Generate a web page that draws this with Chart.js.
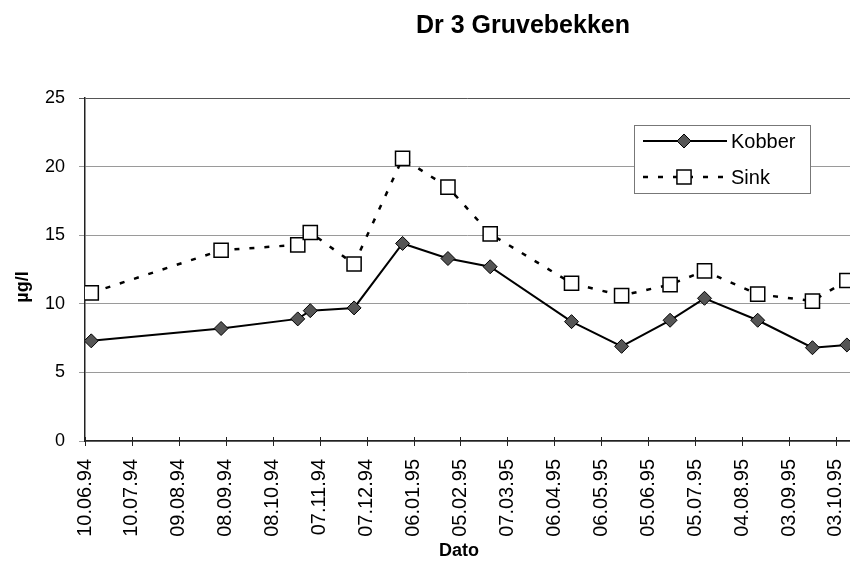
<!DOCTYPE html>
<html>
<head>
<meta charset="utf-8">
<title>Dr 3 Gruvebekken</title>
<script src="https://cdn.jsdelivr.net/npm/chart.js@4.4.1/dist/chart.umd.min.js"></script>
<style>
    html, body { margin: 0; padding: 0; background: #fff; }
    canvas { display: block; }
</style>
</head>
<body>
<canvas id="myChart" width="850" height="570"></canvas>
<script>
// sample dates as days counted from 10.06.94 (first tick of the date axis)
const sampleDays = [4, 87, 136, 144, 172, 203, 232, 259, 311, 343, 374, 396, 430, 465, 487];
const kobber = [7.3, 8.2, 8.9, 9.5, 9.7, 14.4, 13.3, 12.7, 8.7, 6.9, 8.8, 10.4, 8.8, 6.8, 7.0];
const sink = [10.8, 13.9, 14.3, 15.2, 12.9, 20.6, 18.5, 15.1, 11.5, 10.6, 11.4, 12.4, 10.7, 10.2, 11.7];

// date axis ticks (every 30 days)
const tickDays = [0, 30, 60, 90, 120, 150, 180, 210, 240, 270, 300, 330, 360, 390, 420, 450, 480];
const tickLabels = ['10.06.94', '10.07.94', '09.08.94', '08.09.94', '08.10.94', '07.11.94', '07.12.94',
    '06.01.95', '05.02.95', '07.03.95', '06.04.95', '06.05.95', '05.06.95', '05.07.95',
    '04.08.95', '03.09.95', '03.10.95'];
const yTicks = [0, 5, 10, 15, 20, 25];

const FONT = '"Liberation Sans", Arial, sans-serif';

function toPoints(values) {
    return values.map((v, i) => ({ x: sampleDays[i], y: v }));
}

// title, axis titles, crossing tick marks and the legend box
const extras = {
    id: 'extras',
    afterDraw(chart) {
        const ctx = chart.ctx;
        const area = chart.chartArea;
        const xs = chart.scales.x;
        ctx.save();

        ctx.strokeStyle = '#222';
        ctx.lineWidth = 1;
        tickDays.forEach(d => {
            const px = Math.round(xs.getPixelForValue(d)) + 0.5;
            ctx.beginPath();
            ctx.moveTo(px, area.bottom - 4);
            ctx.lineTo(px, area.bottom + 5);
            ctx.stroke();
        });

        ctx.fillStyle = '#000';
        ctx.textAlign = 'center';
        ctx.textBaseline = 'alphabetic';
        ctx.font = 'bold 25px ' + FONT;
        ctx.fillText('Dr 3 Gruvebekken', 523, 33);

        ctx.font = 'bold 18px ' + FONT;
        ctx.fillText('Dato', 459, 556);

        ctx.save();
        ctx.translate(23, 287);
        ctx.rotate(-Math.PI / 2);
        ctx.textBaseline = 'middle';
        ctx.fillText('µg/l', 0, 0);
        ctx.restore();

        // legend
        ctx.fillStyle = '#fff';
        ctx.fillRect(634, 125, 176, 68);
        ctx.strokeStyle = '#777';
        ctx.lineWidth = 1;
        ctx.strokeRect(634.5, 125.5, 176, 68);

        ctx.strokeStyle = '#000';
        ctx.lineWidth = 2;
        ctx.beginPath();
        ctx.moveTo(643, 141);
        ctx.lineTo(727, 141);
        ctx.stroke();
        ctx.fillStyle = '#555';
        ctx.lineWidth = 1;
        Chart.helpers.drawPoint(ctx, { pointStyle: 'rectRot', radius: 7, borderWidth: 1, rotation: 0 }, 684, 141);

        ctx.lineWidth = 2.5;
        ctx.setLineDash([5, 10]);
        ctx.beginPath();
        ctx.moveTo(643, 177);
        ctx.lineTo(727, 177);
        ctx.stroke();
        ctx.setLineDash([]);
        ctx.fillStyle = '#fff';
        ctx.lineWidth = 1.5;
        Chart.helpers.drawPoint(ctx, { pointStyle: 'rect', radius: 10, borderWidth: 1.5, rotation: 0 }, 684, 177);

        ctx.fillStyle = '#000';
        ctx.textAlign = 'left';
        ctx.textBaseline = 'middle';
        ctx.font = '20px ' + FONT;
        ctx.fillText('Kobber', 731, 142);
        ctx.fillText('Sink', 731, 178);

        ctx.restore();
    }
};

const data = {
    datasets: [{
        label: 'Kobber',
        data: toPoints(kobber),
        borderColor: '#000',
        borderWidth: 2,
        pointStyle: 'rectRot',
        pointRadius: 7,
        pointBackgroundColor: '#555',
        pointBorderColor: '#000',
        pointBorderWidth: 1,
        tension: 0
    }, {
        label: 'Sink',
        data: toPoints(sink),
        borderColor: '#000',
        borderWidth: 2.5,
        borderDash: [5, 10],
        pointStyle: 'rect',
        pointRadius: 10,
        pointBackgroundColor: '#fff',
        pointBorderColor: '#000',
        pointBorderWidth: 1.5,
        tension: 0
    }]
};

const config = {
    type: 'line',
    data,
    options: {
        responsive: false,
        animation: false,
        layout: { autoPadding: false, padding: { top: 98, right: 0, left: 0, bottom: 0 } },
        plugins: {
            legend: { display: false },
            title: { display: false },
            tooltip: { enabled: false }
        },
        scales: {
            x: {
                type: 'linear',
                min: 0,
                max: 489,
                afterFit: scale => {
                    scale.height = 129;
                    scale.paddingLeft = 0;
                    scale.paddingRight = 0;
                },
                afterBuildTicks: scale => { scale.ticks = tickDays.map(v => ({ value: v })); },
                grid: { display: false, drawTicks: false },
                border: { display: true, color: '#222', width: 1.5 },
                ticks: {
                    autoSkip: false,
                    minRotation: 90,
                    maxRotation: 90,
                    padding: 18,
                    color: '#000',
                    font: { family: FONT, size: 20 },
                    callback: (value) => tickLabels[tickDays.indexOf(value)]
                }
            },
            y: {
                min: 0,
                max: 25,
                afterFit: scale => {
                    scale.width = 85;
                    scale.paddingTop = 0;
                    scale.paddingBottom = 0;
                },
                afterBuildTicks: scale => { scale.ticks = yTicks.map(v => ({ value: v })); },
                grid: {
                    color: ctx => ctx.tick && ctx.tick.value === 25 ? '#555' : '#9a9a9a',
                    lineWidth: 1,
                    tickLength: 6,
                    drawTicks: true
                },
                border: { display: true, color: '#222', width: 1.5 },
                ticks: {
                    padding: 14,
                    color: '#000',
                    font: { family: FONT, size: 18 }
                }
            }
        }
    },
    plugins: [extras]
};

const myChart = new Chart(document.getElementById('myChart'), config);
</script>
</body>
</html>
